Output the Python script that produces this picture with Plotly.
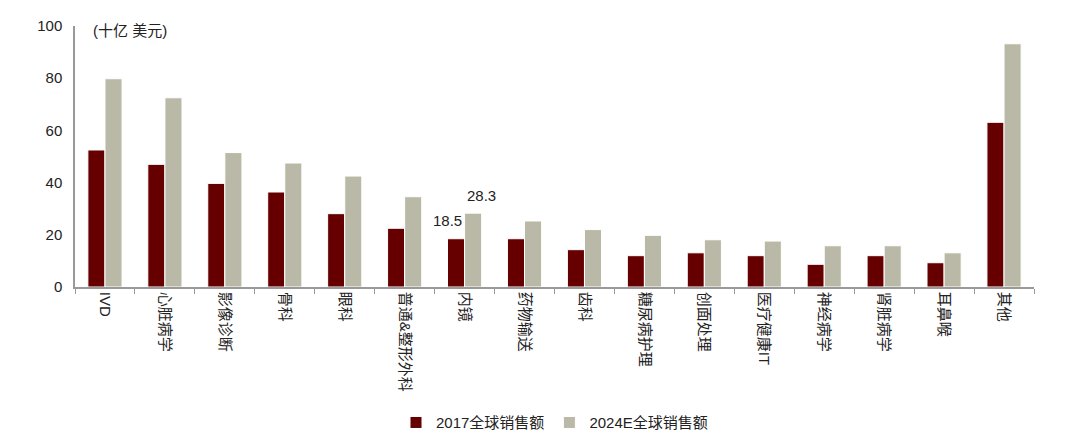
import plotly.graph_objects as go

# 类别与数值 (十亿美元)
categories = ["IVD", "心脏病学", "影像诊断", "骨科", "眼科", "普通&整形外科", "内镜", "药物输送",
              "齿科", "糖尿病护理", "创面处理", "医疗健康IT", "神经病学", "肾脏病学", "耳鼻喉", "其他"]
sales_2017 = [52.5, 47.0, 39.7, 36.4, 28.1, 22.5, 18.5, 18.5,
              14.3, 12.0, 13.1, 12.0, 8.7, 12.0, 9.3, 63.1]
sales_2024e = [79.8, 72.5, 51.5, 47.5, 42.5, 34.6, 28.3, 25.3,
               22.0, 19.8, 18.1, 17.6, 15.8, 15.8, 13.1, 93.2]
labelled = "内镜"

font_family = "Liberation Sans, Arial, Noto Sans CJK SC"
red = "#660000"
grey = "#BAB9A7"

fig = go.Figure()
fig.add_trace(go.Bar(x=categories, y=sales_2017, name="2017全球销售额",
                     marker=dict(color=red, line=dict(color="white", width=1))))
fig.add_trace(go.Bar(x=categories, y=sales_2024e, name="2024E全球销售额",
                     marker=dict(color=grey, line=dict(color="white", width=1))))

# 内镜的数据标签
i = categories.index(labelled)
for val, shift in [(sales_2017[i], -17), (sales_2024e[i], 17)]:
    fig.add_annotation(x=labelled, y=val, xshift=shift, yshift=18, text=f"{val:.1f}",
                       showarrow=False, font=dict(size=15, color="#222"))

fig.add_annotation(x=0, y=1.0, xref="paper", yref="paper", xanchor="left", yanchor="middle",
                   xshift=16, yshift=-4, text="(十亿 美元)", showarrow=False,
                   font=dict(size=15, color="#222"))

# 页面 body 有 8px 边距, 图尺寸相应缩小
fig.update_layout(
    width=1072, height=428,
    margin=dict(l=67, r=46, t=18, b=149, autoexpand=False),
    paper_bgcolor="white", plot_bgcolor="white",
    font=dict(family=font_family, size=14, color="#222"),
    barmode="group", bargap=0.43, bargroupgap=0,
    showlegend=True,
    legend=dict(orientation="h", x=0.5, xanchor="center", y=-0.52, yanchor="middle",
                font=dict(size=15), itemwidth=30, traceorder="normal"),
    xaxis=dict(tickangle=90, showline=True, linecolor="#999", linewidth=1.5,
               ticks="outside", tickson="boundaries", ticklen=5, tickcolor="#999",
               tickfont=dict(size=15), showgrid=False, automargin=False),
    yaxis=dict(range=[0, 100], dtick=20, showline=True, linecolor="#999", linewidth=1.5,
               showgrid=False, zeroline=False, ticks="", tickfont=dict(size=15),
               ticklabelstandoff=8, automargin=False),
)

fig.write_html("out.html")
